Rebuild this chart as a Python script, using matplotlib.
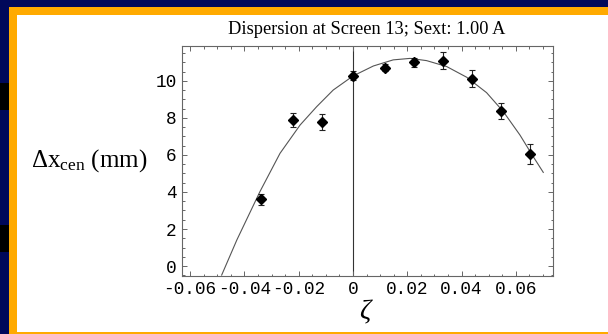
#dispersion measured at screen 13 vs momentum offset zeta, sextupole at 1.00 A
#data points with error bars plus the fitted curve
import numpy as np
import matplotlib
matplotlib.use('Agg')
import matplotlib.pyplot as plt
from matplotlib.patches import Rectangle

plt.rcParams['mathtext.fontset'] = 'custom'
plt.rcParams['mathtext.rm'] = 'Liberation Serif'
plt.rcParams['mathtext.it'] = 'Liberation Serif:italic'

#measured centroid shift
zeta = [-0.0340, -0.0222, -0.0115, 0.0, 0.0117, 0.0223, 0.0330, 0.0438, 0.0545, 0.0652]
dx_cen = [3.60, 7.89, 7.77, 10.29, 10.72, 11.01, 11.10, 10.13, 8.38, 6.05]
dx_err = [0.31, 0.38, 0.43, 0.23, 0.18, 0.25, 0.46, 0.45, 0.41, 0.54]

#fitted curve
fit_z = [-0.0484, -0.0428, -0.0343, -0.0269, -0.0195, -0.0134, -0.0073, 0.0, 0.0075, 0.0148,
         0.0210, 0.0271, 0.0345, 0.0419, 0.0492, 0.0554, 0.0615, 0.0664, 0.0701]
fit_dx = [-0.49, 1.41, 4.02, 6.09, 7.62, 8.61, 9.51, 10.27, 10.81, 11.14,
          11.22, 11.10, 10.78, 10.20, 9.37, 8.34, 7.08, 5.91, 5.06]

xticks = [-0.06, -0.04, -0.02, 0.0, 0.02, 0.04, 0.06]
xlabels = ['-0.06', '-0.04', '-0.02', '0', '0.02', '0.04', '0.06']
yticks = [0, 2, 4, 6, 8, 10]
ylabels = ['0', '2', '4', '6', '8', '10']

W, H = 608, 334
navy = '#00085a'
orange = '#ffaa00'

def box(x0, y0, x1, y1):
    #pixel box (top-left origin) -> figure fraction
    return (x0 / W, 1 - y1 / H), (x1 - x0) / W, (y1 - y0) / H

fig = plt.figure(figsize=(W / 100, H / 100), dpi=100)
fig.patch.set_facecolor(navy)
for b, c in [((9, 7, W, H), orange), ((17.3, 15.3, W, 331.5), 'white'),
             ((0, 83, 9, 110), '#000000'), ((0, 225, 9, 252), '#000000')]:
    xy, w, h = box(*b)
    fig.add_artist(Rectangle(xy, w, h, transform=fig.transFigure, facecolor=c,
                             edgecolor='none', zorder=-5))

ax = fig.add_axes([181.5 / W, 1 - 276 / H, (552.5 - 181.5) / W, (276 - 46) / H])
ax.set_xlim(-0.0632, 0.0735)
ax.set_ylim(-0.54, 11.89)

ax.axvline(0, color='#333333', lw=0.8, zorder=1)
ax.plot(fit_z, fit_dx, color='#555555', lw=0.8, zorder=2)
ax.errorbar(zeta, dx_cen, yerr=dx_err, fmt='D', color='black', ms=5.5,
            ecolor='#222222', elinewidth=0.8, capsize=2.5, capthick=0.8, zorder=3)

ax.set_xticks(xticks)
ax.set_xticklabels(xlabels)
ax.set_yticks(yticks)
ax.set_yticklabels(ylabels)
ax.set_xticks(np.arange(-0.06, 0.0701, 0.005), minor=True)
ax.set_yticks(np.arange(-0.5, 11.6, 0.5), minor=True)
ax.tick_params(which='both', direction='in', top=True, right=True, color='#666666', width=0.7)
ax.tick_params(which='major', length=3.3, pad=3.5)
ax.tick_params(which='minor', length=1.8)
for lab in ax.get_xticklabels() + ax.get_yticklabels():
    lab.set_family('Liberation Mono')
    lab.set_fontsize(12.8)
for s in ax.spines.values():
    s.set_color('#666666')
    s.set_linewidth(0.8)

ax.set_title('Dispersion at Screen 13; Sext: 1.00 A', family='Liberation Serif', fontsize=13.2, pad=9)
fig.text(31 / W, 1 - 167 / H, r'$\Delta\mathrm{x}_{\mathrm{cen}}$ (mm)', family='Liberation Serif',
         fontsize=18, ha='left', va='baseline')
fig.text(366 / W, 1 - 312 / H, r'$\zeta$', fontsize=20, ha='center', va='center')

fig.savefig('out.png', dpi=100, facecolor=fig.get_facecolor())
